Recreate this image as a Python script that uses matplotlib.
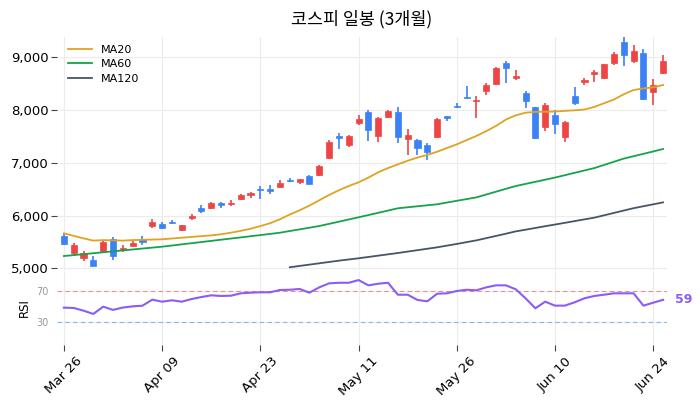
import numpy as np
import pandas as pd
import matplotlib
matplotlib.use("Agg")
import matplotlib.pyplot as plt
from matplotlib.ticker import FuncFormatter

plt.rcParams['font.family'] = ['DejaVu Sans', 'Noto Sans CJK KR']

# trading days (KRX holidays removed)
holidays = ['2026-05-01', '2026-05-05', '2026-05-25', '2026-06-03']
dates = pd.bdate_range('2026-03-26', '2026-06-25')
dates = dates[~dates.isin(pd.to_datetime(holidays))]

# daily candles
opens = [5612, 5296, 5190, 5157, 5328, 5550, 5363, 5428, 5555, 5808,
         5846, 5884, 5732, 5960, 6143, 6149, 6244, 6219, 6308, 6384,
         6509, 6509, 6535, 6670, 6630, 6750, 6775, 7097, 7508, 7338,
         7755, 7964, 7514, 7875, 7964, 7446, 7432, 7338, 7484, 7888,
         8075, 8245, 8170, 8367, 8489, 8887, 8614, 8318, 8053, 7685,
         7907, 7495, 8267, 8527, 8690, 8614, 8887, 9285, 8930, 9077,
         8348, 8697]
highs = [5650, 5474, 5328, 5239, 5537, 5593, 5442, 5518, 5612, 5935,
         5878, 5910, 5830, 6030, 6200, 6260, 6260, 6290, 6400, 6440,
         6560, 6580, 6670, 6720, 6700, 6760, 6950, 7438, 7565, 7530,
         7906, 8001, 7870, 8000, 8053, 7636, 7445, 7370, 7840, 7895,
         8130, 8456, 8267, 8520, 8820, 8930, 8760, 8370, 8060, 8130,
         8001, 7800, 8432, 8600, 8760, 8880, 9096, 9391, 9234, 9158,
         8583, 9044]
lows = [5440, 5233, 5144, 5040, 5309, 5157, 5309, 5420, 5442, 5773,
        5745, 5840, 5710, 5920, 6048, 6120, 6150, 6180, 6290, 6340,
        6314, 6400, 6520, 6640, 6600, 6590, 6750, 7080, 7256, 7306,
        7717, 7419, 7400, 7850, 7370, 7148, 7148, 7053, 7470, 7790,
        8030, 8215, 7844, 8290, 8480, 8508, 8570, 8033, 7450, 7603,
        7540, 7395, 8090, 8480, 8538, 8595, 8860, 8835, 8900, 8190,
        8096, 8680]
closes = [5466, 5436, 5290, 5049, 5493, 5239, 5390, 5474, 5493, 5878,
          5770, 5865, 5815, 5985, 6080, 6244, 6194, 6244, 6390, 6428,
          6479, 6471, 6623, 6655, 6693, 6598, 6934, 7400, 7476, 7514,
          7831, 7628, 7850, 7988, 7495, 7527, 7275, 7211, 7831, 7844,
          8055, 8225, 8190, 8475, 8792, 8792, 8646, 8172, 7476, 8096,
          7730, 7774, 8128, 8570, 8728, 8873, 9063, 9044, 9120, 8204,
          8470, 8930]

ma20 = [5664, 5615, 5568, 5525, 5535, 5530, 5525, 5535, 5540, 5545,
        5550, 5565, 5580, 5595, 5610, 5625, 5645, 5675, 5710, 5750,
        5800, 5855, 5930, 6020, 6100, 6190, 6290, 6390, 6480, 6560,
        6630, 6720, 6820, 6900, 6970, 7040, 7100, 7150, 7210, 7280,
        7350, 7430, 7510, 7600, 7700, 7820, 7900, 7950, 7965, 7968,
        7972, 7985, 7995, 8010, 8060, 8130, 8200, 8300, 8380, 8410,
        8430, 8475]
ma60 = [5233, 5250, 5268, 5286, 5304, 5322, 5340, 5357, 5375, 5392,
        5410, 5432, 5454, 5476, 5498, 5520, 5542, 5564, 5586, 5608,
        5630, 5652, 5675, 5707, 5738, 5770, 5802, 5843, 5884, 5926,
        5967, 6010, 6052, 6095, 6138, 6157, 6176, 6195, 6214, 6247,
        6280, 6312, 6345, 6399, 6453, 6507, 6560, 6600, 6640, 6680,
        6720, 6765, 6810, 6855, 6900, 6960, 7020, 7080, 7125, 7170,
        7215, 7262]
ma120 = [np.nan] * 23 + [
        5020, 5045, 5070, 5095, 5120, 5145, 5168,
        5190, 5215, 5240, 5265, 5290, 5317, 5344, 5371, 5398, 5430,
        5462, 5496, 5530, 5572, 5614, 5656, 5700, 5732, 5765, 5798,
        5830, 5862, 5895, 5928, 5960, 6005, 6050, 6095, 6140, 6177,
        6213, 6250]

rsi = [48.9, 48.5, 45.0, 40.8, 50.2, 46.0, 49.0, 50.6, 51.4, 59.2,
       56.6, 58.4, 56.6, 60.0, 62.6, 64.8, 64.0, 64.3, 67.4, 68.2,
       68.7, 68.7, 71.7, 72.0, 73.0, 68.2, 75.1, 80.3, 81.0, 81.0,
       84.5, 77.7, 79.8, 81.0, 65.6, 65.6, 58.8, 57.1, 66.9, 67.4,
       70.4, 72.0, 71.3, 75.1, 77.7, 77.7, 72.6, 61.0, 48.1, 56.6,
       51.5, 51.5, 55.8, 61.0, 64.0, 65.6, 67.4, 67.4, 67.4, 51.5,
       55.3, 59.0]

UP = '#ef4444'
DOWN = '#3b82f6'
GRID = '#ececec'

x = np.arange(len(dates))
o = np.array(opens); c = np.array(closes)
colors = [UP if cc >= oo else DOWN for oo, cc in zip(o, c)]

fig = plt.figure(figsize=(7, 4.11), dpi=100)
ax = fig.add_axes([57/700, 1 - 270/411, 610/700, 233/411])
ax2 = fig.add_axes([57/700, 1 - 345/411, 610/700, 74/411], sharex=ax)

# candles
ax.vlines(x, lows, highs, colors=colors, linewidth=1.2, zorder=3)
body_lo = np.minimum(o, c)
body_h = np.maximum(np.abs(c - o), 18)
ax.bar(x, body_h, bottom=body_lo, width=0.62, color=colors, edgecolor=colors,
       linewidth=0.5, zorder=4)

ax.plot(x, ma20, color='#dea321', lw=1.3, label='MA20', zorder=5)
ax.plot(x, ma60, color='#16a34a', lw=1.3, label='MA60', zorder=5)
ax.plot(x, ma120, color='#475569', lw=1.3, label='MA120', zorder=5)

ax.set_xlim(-0.7, 61.4)
ax.set_ylim(4968, 9385)
ax.set_yticks([5000, 6000, 7000, 8000, 9000])
ax.yaxis.set_major_formatter(FuncFormatter(lambda v, p: f'{v:,.0f}'))
ax.tick_params(axis='y', labelsize=9.5, length=4, color='#444', pad=2)
ax.tick_params(axis='x', bottom=False, labelbottom=False)
ax.grid(True, color=GRID, lw=0.8)
ax.set_axisbelow(True)
for s in ax.spines.values():
    s.set_visible(False)
ax.legend(loc='upper left', frameon=False, fontsize=8, handlelength=2.2,
          borderaxespad=0.3, labelspacing=0.4, bbox_to_anchor=(0.005, 1.0))
ax.set_title('코스피 일봉 (3개월)', fontsize=12.5, pad=9,
             family=['Noto Sans CJK KR', 'DejaVu Sans'])

# RSI panel
ax2.plot(x, rsi, color='#8b5cf6', lw=1.5, zorder=4)
ax2.axhline(70, color='#f28b8b', lw=0.8, ls=(0, (4, 3)), zorder=2)
ax2.axhline(30, color='#7fb6f7', lw=0.8, ls=(0, (4, 3)), zorder=2)
ax2.text(x[-1] + 1.2, rsi[-1], f'{rsi[-1]:.0f}', color='#8b5cf6', fontsize=9,
         fontweight='bold', va='center', ha='left', clip_on=False)
ax2.set_ylim(0.7, 96.2)
ax2.set_yticks([30, 70])
ax2.tick_params(axis='y', labelsize=7, labelcolor='#999999', length=0, pad=6)
ax2.set_ylabel('RSI', fontsize=8.5, labelpad=4)
ticks = x[::10]
ax2.set_xticks(ticks)
ax2.set_xticklabels([d.strftime('%b %d') for d in dates[::10]], rotation=45,
                    ha='center', va='top', fontsize=9.5)
ax2.tick_params(axis='x', length=4, color='#444', pad=3)
ax2.grid(True, color=GRID, lw=0.8)
ax2.set_axisbelow(True)
for s in ax2.spines.values():
    s.set_visible(False)

fig.savefig('out.png', dpi=100)
